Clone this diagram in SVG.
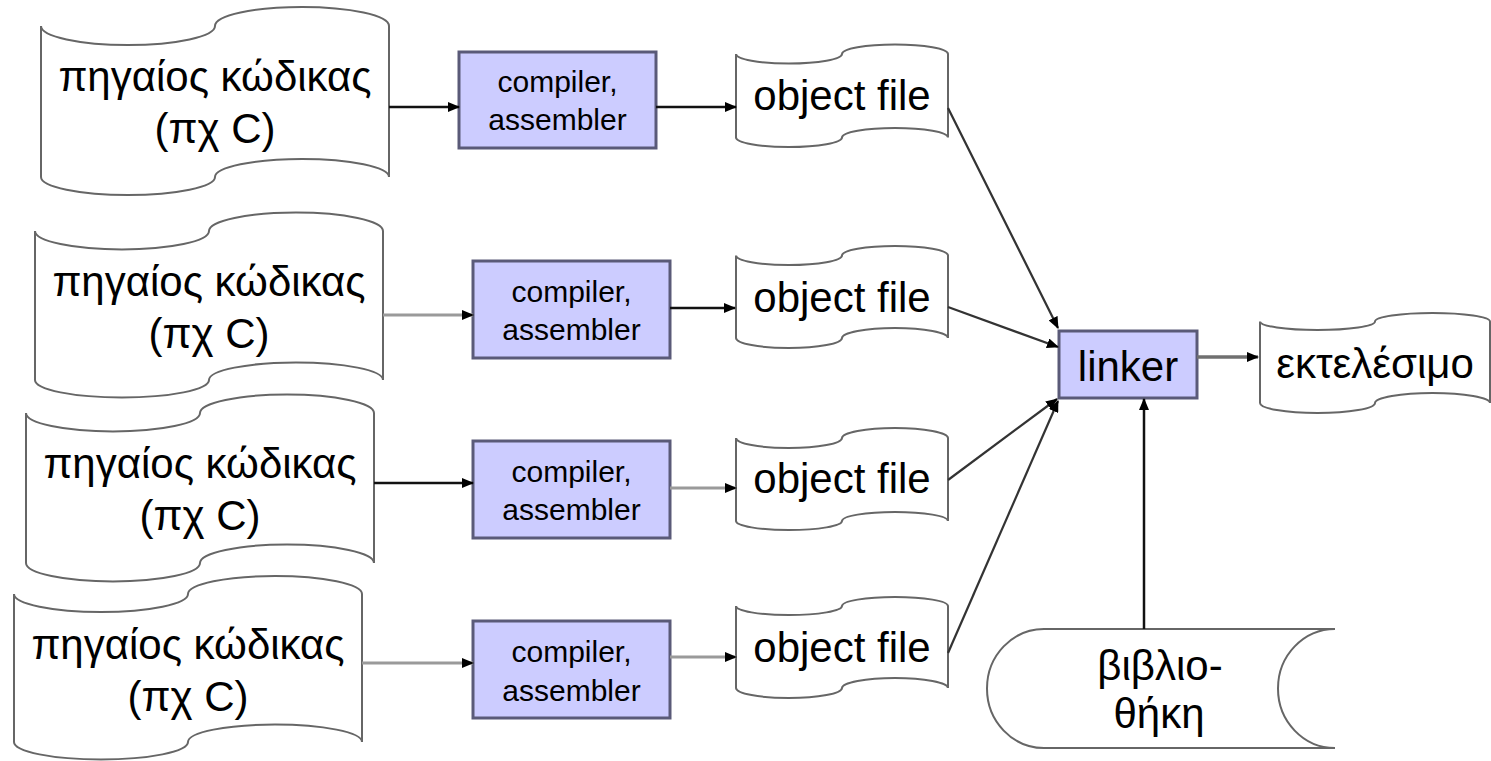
<svg xmlns="http://www.w3.org/2000/svg" width="1491" height="761" viewBox="0 0 1491 761">
<defs>
<style>
.tape{fill:#fff;stroke:#666;stroke-width:2}
.box{fill:#ccccff;stroke:#5a5a78;stroke-width:3}
.t{font-family:"Liberation Sans",Arial,sans-serif;fill:#000;text-anchor:middle}
.big{font-size:42px}
.sm{font-size:30px}
.k{stroke:#111;stroke-width:2.5;fill:none}
.g{stroke:#9a9a9a;stroke-width:3;fill:none}
.d{stroke:#333;stroke-width:2.2;fill:none}
</style>
<marker id="ah" markerUnits="userSpaceOnUse" markerWidth="12" markerHeight="10" refX="11" refY="5" orient="auto">
<path d="M0,0 L12,5 L0,10 z" fill="#000"/>
</marker>
</defs>
<rect width="1491" height="761" fill="#fff"/>

<g id="src1">
<path class="tape" d="M41,26 A87,19 0 0 0 215,26 A87,19 0 0 1 389,26 L389,177 A87,18 0 0 0 215,177 A87,18 0 0 1 41,177 Z"/>
<text class="t big" x="215" y="91">πηγαίος κώδικας</text>
<text class="t big" x="215" y="143">(πχ C)</text>
</g>
<g id="src2">
<path class="tape" d="M35,231 A87,18.5 0 0 0 209,231 A87,18.5 0 0 1 383,231 L383,380 A87,17.5 0 0 0 209,380 A87,17.5 0 0 1 35,380 Z"/>
<text class="t big" x="209" y="296">πηγαίος κώδικας</text>
<text class="t big" x="209" y="348">(πχ C)</text>
</g>
<g id="src3">
<path class="tape" d="M26,413 A87,18.5 0 0 0 200,413 A87,18.5 0 0 1 374,413 L374,563 A87,18.5 0 0 0 200,563 A87,18.5 0 0 1 26,563 Z"/>
<text class="t big" x="200" y="478">πηγαίος κώδικας</text>
<text class="t big" x="200" y="530">(πχ C)</text>
</g>
<g id="src4">
<path class="tape" d="M14,594 A87,18 0 0 0 188,594 A87,18 0 0 1 362,594 L362,742 A87,17.5 0 0 0 188,742 A87,17.5 0 0 1 14,742 Z"/>
<text class="t big" x="188" y="659">πηγαίος κώδικας</text>
<text class="t big" x="188" y="711">(πχ C)</text>
</g>

<g id="comp1">
<rect class="box" x="459" y="52" width="197" height="96"/>
<text class="t sm" x="557.5" y="92">compiler,</text>
<text class="t sm" x="557.5" y="130">assembler</text>
</g>
<g id="comp2">
<rect class="box" x="473" y="261" width="197" height="97"/>
<text class="t sm" x="571.5" y="302">compiler,</text>
<text class="t sm" x="571.5" y="340">assembler</text>
</g>
<g id="comp3">
<rect class="box" x="473" y="441" width="197" height="97"/>
<text class="t sm" x="571.5" y="482">compiler,</text>
<text class="t sm" x="571.5" y="520">assembler</text>
</g>
<g id="comp4">
<rect class="box" x="473" y="621" width="197" height="97"/>
<text class="t sm" x="571.5" y="662">compiler,</text>
<text class="t sm" x="571.5" y="701">assembler</text>
</g>

<g id="obj1">
<path class="tape" d="M736,54 A53,9.5 0 0 0 842,54 A53,9.5 0 0 1 948,54 L948,137.5 A53,9.5 0 0 0 842,137.5 A53,9.5 0 0 1 736,137.5 Z"/>
<text class="t big" x="842" y="110">object file</text>
</g>
<g id="obj2">
<path class="tape" d="M736,255.5 A53,9.5 0 0 0 842,255.5 A53,9.5 0 0 1 948,255.5 L948,338 A53,10 0 0 0 842,338 A53,10 0 0 1 736,338 Z"/>
<text class="t big" x="842" y="312">object file</text>
</g>
<g id="obj3">
<path class="tape" d="M736,438 A53,10 0 0 0 842,438 A53,10 0 0 1 948,438 L948,521 A53,9 0 0 0 842,521 A53,9 0 0 1 736,521 Z"/>
<text class="t big" x="842" y="493">object file</text>
</g>
<g id="obj4">
<path class="tape" d="M736,606 A53,9 0 0 0 842,606 A53,9 0 0 1 948,606 L948,688 A53,10 0 0 0 842,688 A53,10 0 0 1 736,688 Z"/>
<text class="t big" x="842" y="662">object file</text>
</g>

<g id="linker">
<rect class="box" x="1059" y="331" width="138" height="67"/>
<text class="t big" x="1128" y="381">linker</text>
</g>

<g id="exec">
<path class="tape" d="M1260,321.5 A57.5,8.5 0 0 0 1375,321.5 A57.5,8.5 0 0 1 1490,321.5 L1490,403 A57.5,10 0 0 0 1375,403 A57.5,10 0 0 1 1260,403 Z"/>
<text class="t big" x="1375" y="378">εκτελέσιμο</text>
</g>

<g id="library">
<path class="tape" d="M1044,629 H1335 A57,59.5 0 0 0 1335,748 H1044 A57,59.5 0 0 1 1044,629 Z"/>
<text class="t big" x="1160" y="680">βιβλιο-</text>
<text class="t big" x="1159" y="728">θήκη</text>
</g>

<g id="connectors">
<line class="k" x1="389" y1="107" x2="459" y2="107" marker-end="url(#ah)"/>
<line class="k" x1="656" y1="107" x2="736" y2="107" marker-end="url(#ah)"/>
<line class="g" x1="383" y1="315" x2="473" y2="315" marker-end="url(#ah)"/>
<line class="k" x1="670" y1="308" x2="735" y2="308" marker-end="url(#ah)"/>
<line class="k" x1="374" y1="483" x2="473" y2="483" marker-end="url(#ah)"/>
<line class="g" x1="670" y1="488" x2="736" y2="488" marker-end="url(#ah)"/>
<line class="g" x1="362" y1="663" x2="473" y2="663" marker-end="url(#ah)"/>
<line class="g" x1="670" y1="657" x2="736" y2="657" marker-end="url(#ah)"/>
<line class="d" x1="948" y1="108" x2="1058" y2="328" marker-end="url(#ah)"/>
<line class="d" x1="948" y1="307" x2="1058" y2="347" marker-end="url(#ah)"/>
<line class="d" x1="948" y1="480" x2="1057" y2="399" marker-end="url(#ah)"/>
<line class="d" x1="948" y1="653" x2="1058" y2="401" marker-end="url(#ah)"/>
<line stroke="#707070" stroke-width="3.5" x1="1197" y1="357" x2="1258" y2="357" marker-end="url(#ah)"/>
<line class="k" x1="1144" y1="629" x2="1144" y2="399" marker-end="url(#ah)"/>
</g>
</svg>
